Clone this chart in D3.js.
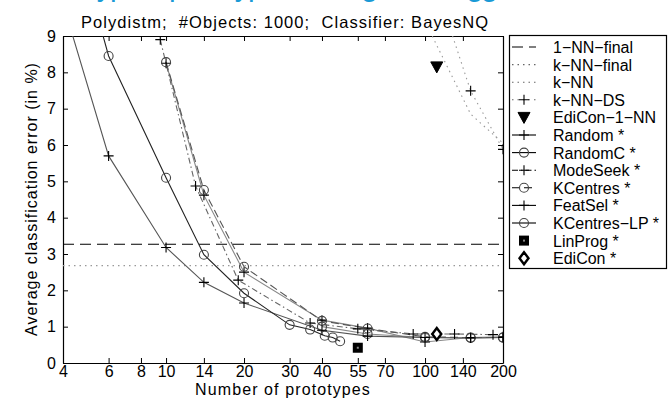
<!DOCTYPE html>
<html>
<head>
<meta charset="utf-8">
<script src="https://cdn.jsdelivr.net/npm/d3@7"></script>
<style>
  body { margin: 0; background: #fff; }
  svg { display: block; }
  text { font-family: "Liberation Sans", Arial, sans-serif; }
</style>
</head>
<body>
<svg id="chart"></svg>
<script>
// Tick values
const xTicks = [4, 6, 8, 10, 14, 20, 30, 40, 55, 70, 100, 140, 200];
const yTicks = [0, 1, 2, 3, 4, 5, 6, 7, 8, 9];

// Series values
const oneNNFinalX = [4, 200];
const oneNNFinalY = [3.27, 3.27];
const kNNFinalX = [4, 200];
const kNNFinalY = [2.68, 2.68];
const kNNX = [100, 150, 200];
const kNNY = [9.4, 6.85, 6.05];
const kNNDSX = [100, 150, 200];
const kNNDSY = [11.3, 7.49, 5.88];
const ediCon1NNX = [111];
const ediCon1NNY = [8.15];
const randomX = [10, 14, 20, 40, 60, 100, 150, 200];
const randomY = [8.25, 4.62, 2.5, 1.18, 0.96, 0.58, 0.7, 0.72];
const randomCX = [40, 60, 100, 150, 200];
const randomCY = [1.0, 0.8, 0.7, 0.69, 0.7];
const modeSeekX = [9.5, 13, 19, 36, 55, 90, 130, 183];
const modeSeekY = [8.9, 4.87, 2.28, 1.1, 0.94, 0.8, 0.8, 0.78];
const kCentresX = [10, 14, 20, 40, 60, 100, 150, 200];
const kCentresY = [8.28, 4.76, 2.65, 1.16, 0.95, 0.72, 0.7, 0.7];
const featSelX = [4, 6, 10, 14, 20, 40, 60, 100, 150, 200];
const featSelY = [9.9, 5.7, 3.18, 2.22, 1.65, 0.9, 0.74, 0.7, 0.69, 0.7];
const kCentresLPX = [4, 6, 10, 14, 20, 30, 36, 41, 44, 47];
const kCentresLPY = [13, 8.45, 5.1, 2.98, 1.92, 1.05, 0.92, 0.75, 0.7, 0.6];
const linProgX = [55];
const linProgY = [0.42];
const ediConX = [111];
const ediConY = [0.8];

// Series table: name, data and drawing style
const series = [
    { name: '1\u2212NN\u2212final', x: oneNNFinalX, y: oneNNFinalY, stroke: '#000', dash: '11,6', marker: null },
    { name: 'k\u2212NN\u2212final', x: kNNFinalX, y: kNNFinalY, stroke: '#999', dash: '1.5,4', marker: null },
    { name: 'k\u2212NN', x: kNNX, y: kNNY, stroke: '#999', dash: '1.5,4', marker: null },
    { name: 'k\u2212NN\u2212DS', x: kNNDSX, y: kNNDSY, stroke: '#999', dash: '1.5,4', marker: 'plus' },
    { name: 'EdiCon\u22121\u2212NN', x: ediCon1NNX, y: ediCon1NNY, stroke: null, dash: null, marker: 'triangle' },
    { name: 'Random *', x: randomX, y: randomY, stroke: '#888', dash: null, marker: 'plus' },
    { name: 'RandomC *', x: randomCX, y: randomCY, stroke: '#888', dash: null, marker: 'circle' },
    { name: 'ModeSeek *', x: modeSeekX, y: modeSeekY, stroke: '#666', dash: '6,3,1.5,3', marker: 'plus' },
    { name: 'KCentres *', x: kCentresX, y: kCentresY, stroke: '#555', dash: '8,4', marker: 'circle' },
    { name: 'FeatSel *', x: featSelX, y: featSelY, stroke: '#555', dash: null, marker: 'plus' },
    { name: 'KCentres\u2212LP *', x: kCentresLPX, y: kCentresLPY, stroke: '#222', dash: null, marker: 'circle' },
    { name: 'LinProg *', x: linProgX, y: linProgY, stroke: null, dash: null, marker: 'square' },
    { name: 'EdiCon *', x: ediConX, y: ediConY, stroke: null, dash: null, marker: 'diamond' }
];

const width = 668;
const height = 411;
const plot = { left: 63, right: 503, top: 36, bottom: 363 };

const svg = d3.select('#chart')
    .attr('width', width)
    .attr('height', height);

// Slide heading, mostly cut off at the top (only descenders show)
svg.append('text')
    .attr('x', 82)
    .attr('y', -4)
    .attr('font-size', '30px')
    .attr('fill', '#1a9ad6')
    .attr('textLength', 416)
    .attr('lengthAdjust', 'spacing')
    .text('Typical prototype learning curves gg');

// Sub title
svg.append('text')
    .attr('x', 81)
    .attr('y', 28)
    .attr('font-size', '16.5px')
    .attr('textLength', 407)
    .attr('lengthAdjust', 'spacing')
    .style('white-space', 'pre')
    .text('Polydistm;  #Objects: 1000;  Classifier: BayesNQ');

// Scales
const xScale = d3.scaleLog()
    .domain([4, 200])
    .range([plot.left, plot.right]);

const yScale = d3.scaleLinear()
    .domain([0, 9])
    .range([plot.bottom, plot.top]);

// Clip for lines
svg.append('clipPath')
    .attr('id', 'plot-clip')
    .append('rect')
    .attr('x', plot.left)
    .attr('y', plot.top)
    .attr('width', plot.right - plot.left)
    .attr('height', plot.bottom - plot.top);

// Axes, ticks pointing inwards like matlab
const tickLen = 5;
const axisBottom = d3.axisBottom(xScale).tickValues(xTicks).tickFormat(d3.format('d'))
    .tickSizeInner(-tickLen).tickSizeOuter(0).tickPadding(3);
const axisTop = d3.axisTop(xScale).tickValues(xTicks).tickFormat('')
    .tickSizeInner(-tickLen).tickSizeOuter(0);
const axisLeft = d3.axisLeft(yScale).tickValues(yTicks)
    .tickSizeInner(-tickLen).tickSizeOuter(0).tickPadding(7);
const axisRight = d3.axisRight(yScale).tickValues(yTicks).tickFormat('')
    .tickSizeInner(-tickLen).tickSizeOuter(0);

function styleAxis(g) {
    g.selectAll('path').attr('stroke', '#000').attr('stroke-width', 1.2);
    g.selectAll('line').attr('stroke', '#000');
    g.selectAll('text')
        .attr('font-size', '16px')
        .attr('fill', '#000')
        .style('font-family', '"Liberation Sans", Arial, sans-serif');
}

svg.append('g')
    .attr('transform', `translate(0, ${plot.bottom})`)
    .call(axisBottom)
    .call(styleAxis);

svg.append('g')
    .attr('transform', `translate(0, ${plot.top})`)
    .call(axisTop)
    .call(styleAxis);

svg.append('g')
    .attr('transform', `translate(${plot.left}, 0)`)
    .call(axisLeft)
    .call(styleAxis);

svg.append('g')
    .attr('transform', `translate(${plot.right}, 0)`)
    .call(axisRight)
    .call(styleAxis);

// Axis labels
svg.append('text')
    .attr('x', 283)
    .attr('y', 395)
    .attr('text-anchor', 'middle')
    .attr('font-size', '16px')
    .attr('letter-spacing', '1.1px')
    .text('Number of prototypes');

svg.append('text')
    .attr('transform', 'rotate(-90)')
    .attr('x', -199)
    .attr('y', 37)
    .attr('text-anchor', 'middle')
    .attr('font-size', '16px')
    .attr('letter-spacing', '1px')
    .text('Average classification error (in %)');

// Marker drawing
function drawMarker(g, type, cx, cy) {
    if (type === 'plus') {
        g.append('path')
            .attr('d', `M${cx - 5},${cy}H${cx + 5}M${cx},${cy - 5}V${cy + 5}`)
            .attr('stroke', '#000')
            .attr('stroke-width', 1.1)
            .attr('fill', 'none');
    } else if (type === 'circle') {
        g.append('circle')
            .attr('cx', cx).attr('cy', cy).attr('r', 4.5)
            .attr('fill', 'none')
            .attr('stroke', '#444')
            .attr('stroke-width', 1.1);
    } else if (type === 'triangle') {
        g.append('path')
            .attr('d', `M${cx - 6},${cy - 5}L${cx + 6},${cy - 5}L${cx},${cy + 6}Z`)
            .attr('fill', '#000')
            .attr('stroke', '#000');
    } else if (type === 'square') {
        g.append('rect')
            .attr('x', cx - 5).attr('y', cy - 5).attr('width', 10).attr('height', 10)
            .attr('fill', '#000');
        g.append('rect')
            .attr('x', cx - 1).attr('y', cy - 1).attr('width', 2).attr('height', 2)
            .attr('fill', '#888');
    } else if (type === 'diamond') {
        g.append('path')
            .attr('d', `M${cx},${cy - 6}L${cx + 4.5},${cy}L${cx},${cy + 6}L${cx - 4.5},${cy}Z`)
            .attr('fill', '#fff')
            .attr('stroke', '#000')
            .attr('stroke-width', 2.4);
    }
}

const line = d3.line()
    .x(d => xScale(d[0]))
    .y(d => yScale(d[1]));

const lines = svg.append('g').attr('clip-path', 'url(#plot-clip)');
const markers = svg.append('g').attr('clip-path', 'url(#plot-clip)');

series.forEach((s) => {
    const pts = s.x.map((x, i) => [x, s.y[i]]);
    if (s.stroke) {
        lines.append('path')
            .datum(pts)
            .attr('fill', 'none')
            .attr('stroke', s.stroke)
            .attr('stroke-width', 1.1)
            .attr('stroke-dasharray', s.dash)
            .attr('d', line);
    }
    if (s.marker) {
        pts.forEach((p) => {
            drawMarker(markers, s.marker, xScale(p[0]), yScale(p[1]));
        });
    }
});

// Legend
const legend = svg.append('g');
legend.append('rect')
    .attr('x', 509.5)
    .attr('y', 35.5)
    .attr('width', 157)
    .attr('height', 233)
    .attr('fill', '#fff')
    .attr('stroke', '#000')
    .attr('stroke-width', 1.2);

series.forEach((s, i) => {
    const ly = 47 + i * 17.6;
    if (s.stroke) {
        legend.append('line')
            .attr('x1', 512).attr('x2', 536)
            .attr('y1', ly).attr('y2', ly)
            .attr('stroke', s.stroke === '#999' ? '#666' : '#000')
            .attr('stroke-width', 1.1)
            .attr('stroke-dasharray', s.dash);
    }
    if (s.marker) {
        drawMarker(legend, s.marker, 524, ly);
    }
    legend.append('text')
        .attr('x', 553)
        .attr('y', ly + 6)
        .attr('font-size', '16px')
        .text(s.name);
});
</script>
</body>
</html>
